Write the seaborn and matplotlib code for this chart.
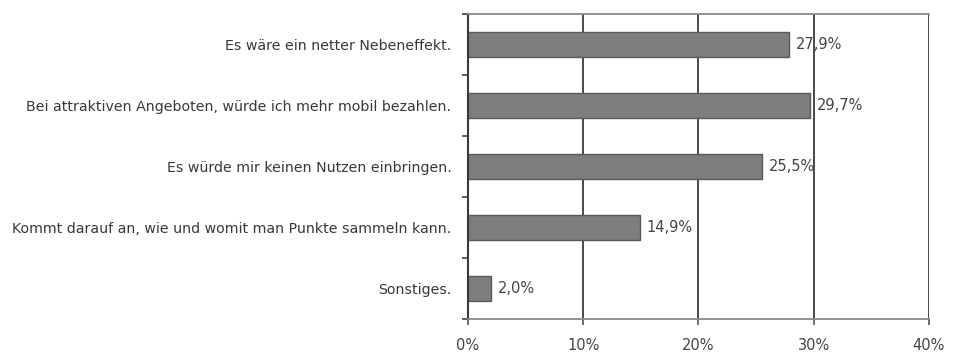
import matplotlib
matplotlib.use("Agg")
import matplotlib.pyplot as plt
import seaborn as sns
import pandas as pd
import numpy as np

categories = [
    "Es wäre ein netter Nebeneffekt.",
    "Bei attraktiven Angeboten, würde ich mehr mobil bezahlen.",
    "Es würde mir keinen Nutzen einbringen.",
    "Kommt darauf an, wie und womit man Punkte sammeln kann.",
    "Sonstiges.",
]
values = [27.9, 29.7, 25.5, 14.9, 2.0]
x_ticks = [0, 10, 20, 30, 40]
x_tick_labels = ["0%", "10%", "20%", "30%", "40%"]

df = pd.DataFrame({"Antwort": categories, "Anteil": values})

sns.set_theme(style="white")
plt.rcParams["font.family"] = ["DejaVu Sans"]

fig = plt.figure(figsize=(9.58, 3.6), dpi=100)
ax = fig.add_axes([0.4885, 0.114, 0.481, 0.847])

sns.barplot(data=df, x="Anteil", y="Antwort", orient="h", ax=ax,
            color="#7e7e7e", edgecolor="#5a5a5a", linewidth=1.0,
            width=0.4, saturation=1)

ax.set_xlim(0, 40)
ax.set_ylim(4.5, -0.5)
ax.set_xticks(x_ticks)
ax.set_xticklabels(x_tick_labels, fontsize=10.5, color="#444444")
ax.set_yticks(range(len(categories)))
ax.set_yticklabels(categories, fontsize=10.2, color="#383838")
ax.set_xlabel("")
ax.set_ylabel("")

# vertical gridlines behind the bars
ax.set_axisbelow(True)
for xv in x_ticks[1:]:
    ax.axvline(xv, color="#3a3a3a", linewidth=1.3, zorder=0)

# boundary ticks between categories on the left axis
ax.set_yticks(np.arange(-0.5, len(categories) + 0.5, 1.0), minor=True)
ax.tick_params(axis="y", which="major", length=0, pad=12)
ax.tick_params(axis="y", which="minor", length=4, width=1.2, color="#444444", left=True)
ax.tick_params(axis="x", which="major", length=4, width=1.2, color="#555555",
               bottom=True, pad=10)

ax.spines["left"].set_color("#3a3a3a")
ax.spines["left"].set_linewidth(1.5)
for side in ["top", "bottom"]:
    ax.spines[side].set_color("#8a8a8a")
    ax.spines[side].set_linewidth(1.3)
ax.spines["right"].set_visible(False)

for i, v in enumerate(values):
    ax.text(v + 0.6, i, f"{v:.1f}%".replace(".", ","), va="center", ha="left",
            fontsize=10.5, color="#444444")

fig.savefig("out.png", dpi=100, facecolor="white")
